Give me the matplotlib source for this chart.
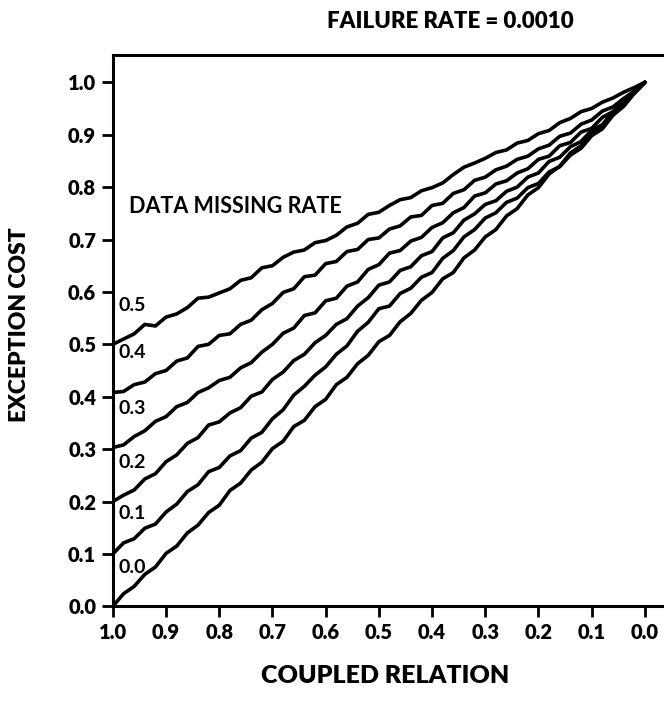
import matplotlib
matplotlib.use('Agg')
import matplotlib.pyplot as plt
import numpy as np

# coupled relation grid, 1.0 -> 0.0
coupled = np.linspace(1.0, 0.0, 51)

# exception cost for each data missing rate
cost_05 = [0.500, 0.510, 0.520, 0.538, 0.535, 0.552, 0.558, 0.570, 0.588, 0.590,
           0.598, 0.606, 0.622, 0.627, 0.646, 0.650, 0.666, 0.676, 0.680, 0.694,
           0.698, 0.708, 0.724, 0.731, 0.748, 0.752, 0.765, 0.776, 0.780, 0.793,
           0.799, 0.808, 0.824, 0.838, 0.846, 0.855, 0.866, 0.871, 0.884, 0.889,
           0.902, 0.908, 0.923, 0.931, 0.944, 0.950, 0.962, 0.970, 0.981, 0.990,
           1.000]
cost_04 = [0.408, 0.410, 0.423, 0.428, 0.444, 0.450, 0.468, 0.474, 0.496, 0.500,
           0.517, 0.520, 0.538, 0.546, 0.566, 0.578, 0.599, 0.606, 0.629, 0.632,
           0.654, 0.658, 0.677, 0.681, 0.700, 0.703, 0.720, 0.726, 0.743, 0.746,
           0.765, 0.769, 0.788, 0.795, 0.813, 0.819, 0.833, 0.840, 0.853, 0.859,
           0.873, 0.880, 0.897, 0.903, 0.920, 0.928, 0.945, 0.953, 0.969, 0.983,
           1.000]
cost_03 = [0.303, 0.308, 0.324, 0.335, 0.353, 0.362, 0.381, 0.389, 0.408, 0.417,
           0.431, 0.437, 0.455, 0.465, 0.485, 0.500, 0.521, 0.531, 0.555, 0.560,
           0.583, 0.588, 0.611, 0.619, 0.643, 0.652, 0.674, 0.679, 0.697, 0.704,
           0.723, 0.732, 0.751, 0.761, 0.783, 0.789, 0.806, 0.812, 0.827, 0.835,
           0.853, 0.859, 0.879, 0.885, 0.905, 0.912, 0.933, 0.944, 0.963, 0.979,
           1.000]
cost_02 = [0.200, 0.212, 0.222, 0.243, 0.253, 0.276, 0.289, 0.311, 0.322, 0.346,
           0.352, 0.369, 0.379, 0.401, 0.409, 0.433, 0.447, 0.469, 0.481, 0.503,
           0.517, 0.538, 0.549, 0.573, 0.589, 0.613, 0.619, 0.641, 0.648, 0.669,
           0.677, 0.703, 0.713, 0.737, 0.749, 0.767, 0.774, 0.792, 0.800, 0.819,
           0.827, 0.849, 0.857, 0.877, 0.887, 0.908, 0.919, 0.942, 0.956, 0.979,
           1.000]
cost_01 = [0.100, 0.121, 0.129, 0.149, 0.157, 0.180, 0.195, 0.219, 0.232, 0.257,
           0.265, 0.287, 0.297, 0.321, 0.332, 0.358, 0.375, 0.403, 0.420, 0.441,
           0.457, 0.481, 0.497, 0.525, 0.542, 0.568, 0.573, 0.597, 0.607, 0.628,
           0.637, 0.664, 0.679, 0.705, 0.719, 0.741, 0.751, 0.771, 0.779, 0.799,
           0.807, 0.829, 0.839, 0.861, 0.874, 0.898, 0.911, 0.937, 0.954, 0.979,
           1.000]
cost_00 = [0.000, 0.024, 0.038, 0.061, 0.075, 0.101, 0.115, 0.140, 0.155, 0.179,
           0.193, 0.221, 0.235, 0.260, 0.275, 0.301, 0.315, 0.343, 0.355, 0.381,
           0.395, 0.423, 0.437, 0.463, 0.479, 0.505, 0.517, 0.543, 0.559, 0.584,
           0.599, 0.625, 0.637, 0.665, 0.680, 0.705, 0.719, 0.745, 0.759, 0.785,
           0.799, 0.825, 0.840, 0.865, 0.879, 0.905, 0.918, 0.944, 0.958, 0.981,
           1.000]

curves = [cost_05, cost_04, cost_03, cost_02, cost_01, cost_00]
rate_labels = ['0.5', '0.4', '0.3', '0.2', '0.1', '0.0']
label_y = [0.574, 0.485, 0.378, 0.275, 0.177, 0.074]

xticks = [1.0, 0.9, 0.8, 0.7, 0.6, 0.5, 0.4, 0.3, 0.2, 0.1, 0.0]
yticks = [0.0, 0.1, 0.2, 0.3, 0.4, 0.5, 0.6, 0.7, 0.8, 0.9, 1.0]

plt.rcParams['font.family'] = ['Lato', 'DejaVu Sans']

fig = plt.figure(figsize=(6.64, 7.15), dpi=100)
ax = fig.add_axes([0.170, 0.152, 0.830, 0.771])

for c in curves:
    ax.plot(coupled, c, color='black', lw=2.6, solid_capstyle='round',
            solid_joinstyle='round')

for lab, ly in zip(rate_labels, label_y):
    ax.text(0.99, ly, lab, fontsize=14, fontweight='bold', va='center', ha='left')

ax.text(0.97, 0.763, 'DATA MISSING RATE', fontsize=15.5, fontweight='bold',
        va='center', ha='left')

ax.set_xlim(1.0, -0.036)
ax.set_ylim(0.0, 1.052)
ax.set_xticks(xticks)
ax.set_xticklabels([f'{t:.1f}' for t in xticks])
ax.set_yticks(yticks)
ax.set_yticklabels([f'{t:.1f}' for t in yticks])
ax.spines['right'].set_visible(False)
for s in ['left', 'bottom', 'top']:
    ax.spines[s].set_linewidth(2.2)
ax.tick_params(direction='out', length=8, width=2.0, labelsize=14.5, pad=4)
for lbl in ax.get_xticklabels() + ax.get_yticklabels():
    lbl.set_fontweight('heavy')

fig.text(450 / 664, 1 - 22 / 715, 'FAILURE RATE = 0.0010', fontsize=16,
         fontweight='heavy', ha='center', va='center')
fig.text(20 / 664, 1 - 325 / 715, 'EXCEPTION COST', fontsize=16.5,
         fontweight='heavy', rotation=90, ha='center', va='center')
fig.text(385 / 664, 1 - 676 / 715, 'COUPLED RELATION', fontsize=18,
         fontweight='heavy', ha='center', va='center')

fig.savefig('out.png', dpi=100)
